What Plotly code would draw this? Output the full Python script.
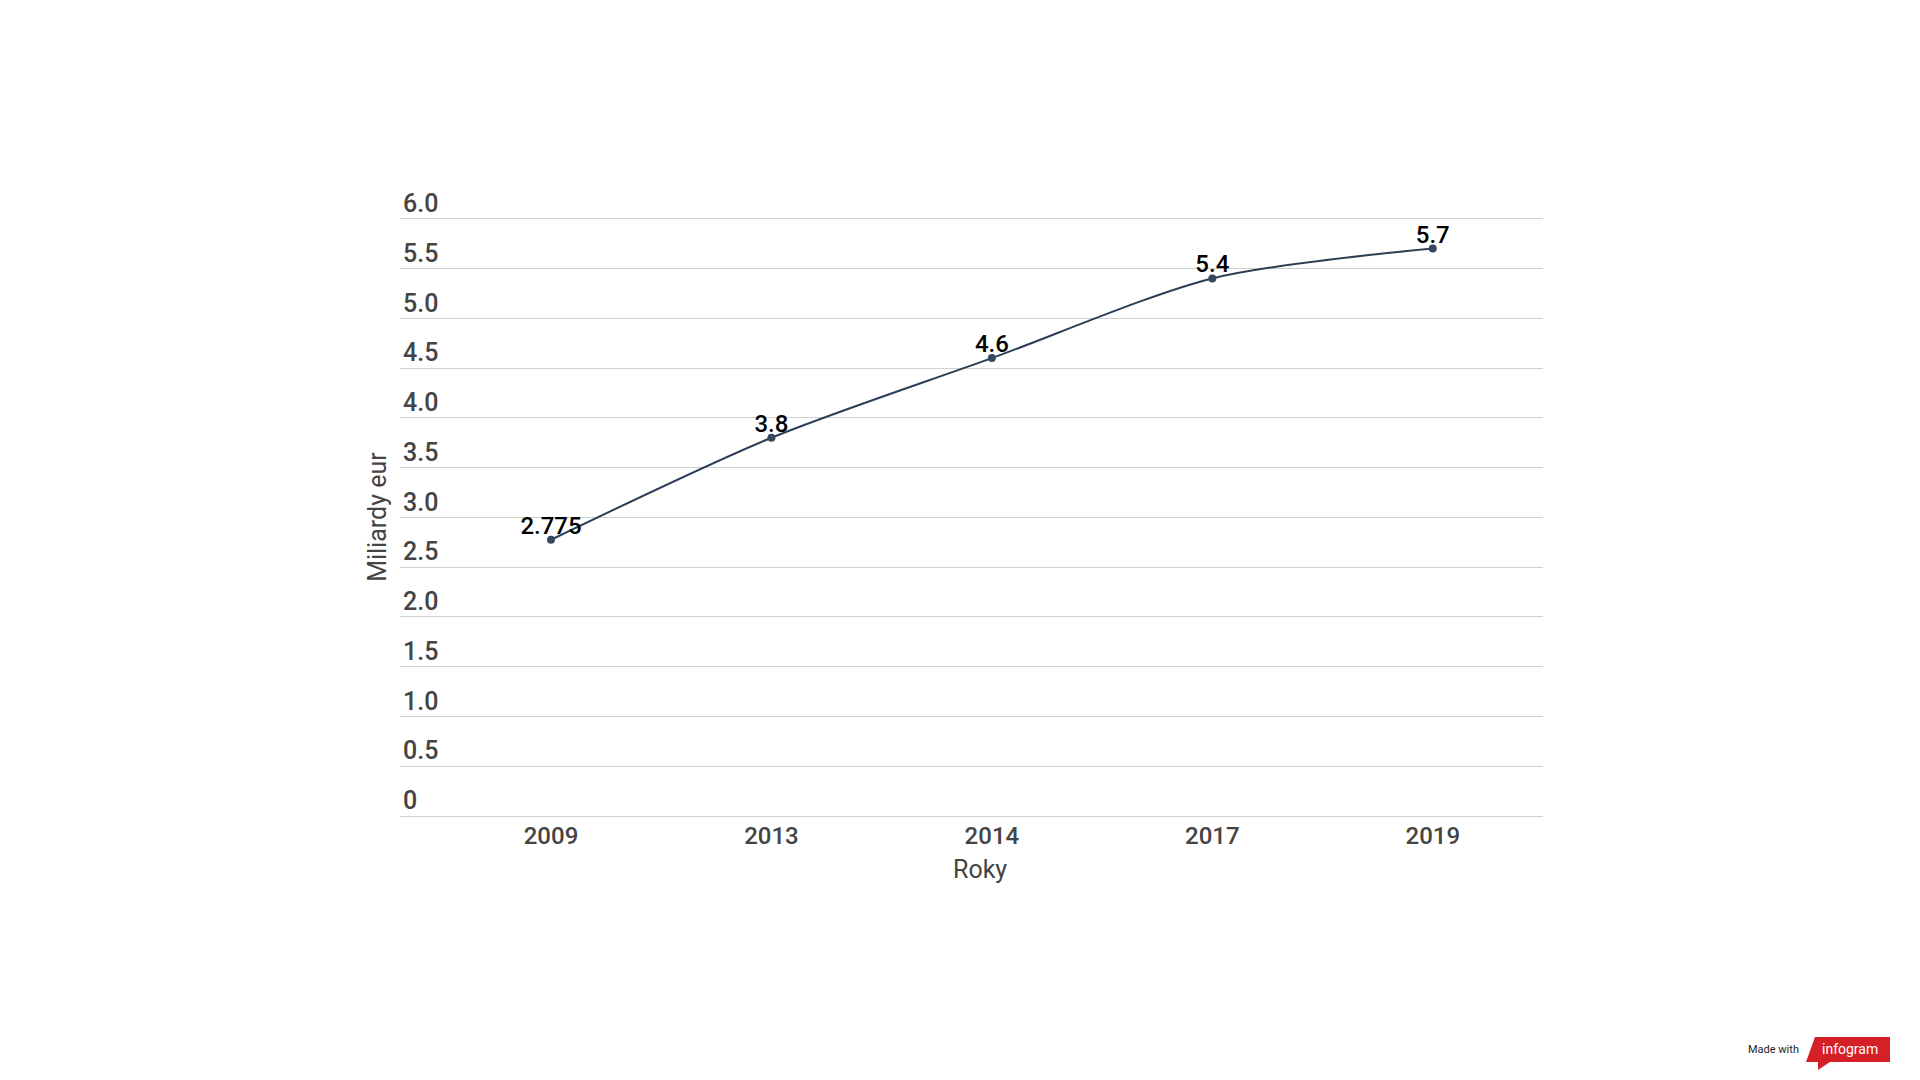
import plotly.graph_objects as go

years = ["2009", "2013", "2014", "2017", "2019"]
values = [2.775, 3.8, 4.6, 5.4, 5.7]
value_labels = ["2.775", "3.8", "4.6", "5.4", "5.7"]
y_ticks = [0, 0.5, 1.0, 1.5, 2.0, 2.5, 3.0, 3.5, 4.0, 4.5, 5.0, 5.5, 6.0]
y_tick_text = ["0", "0.5", "1.0", "1.5", "2.0", "2.5", "3.0", "3.5", "4.0", "4.5", "5.0", "5.5", "6.0"]

W, H = 1920, 1080
Y_TOP = 6.6
L, R, B = 400, 1543, 816
UNIT = 99.5  # pixels per y unit
T = B - Y_TOP * UNIT  # top of plot area in pixels


def px(x):
    return (x - L) / (R - L)


def py(y):
    return (B - y) / (B - T)


LINE = "#2c3e55"
FONT = "Roboto"

fig = go.Figure()
fig.add_trace(go.Scatter(
    x=years, y=values,
    mode="lines+markers",
    line=dict(color=LINE, width=2, shape="spline", smoothing=0.8),
    marker=dict(color="#34495e", size=8),
    hoverinfo="x+y",
    showlegend=False,
))
fig.add_trace(go.Scatter(
    x=years, y=values,
    mode="text",
    text=value_labels,
    textposition="top center",
    textfont=dict(family=FONT, size=24, color="#000000", weight=500),
    cliponaxis=False,
    hoverinfo="skip",
    showlegend=False,
))

fig.update_layout(
    width=W, height=H,
    margin=dict(l=L, r=W - R, t=T, b=H - B, pad=0),
    paper_bgcolor="white",
    plot_bgcolor="white",
    font=dict(family=FONT, color="#444444"),
    xaxis=dict(
        type="category",
        range=[-0.685, 4.5],
        showgrid=False,
        showline=False,
        zeroline=False,
        ticks="",
        ticklabelstandoff=3,
        tickfont=dict(family=FONT, size=24, color="#444444", weight=500),
    ),
    yaxis=dict(
        range=[0, Y_TOP],
        tickvals=y_ticks,
        ticktext=y_tick_text,
        ticklabelposition="inside top",
        ticklabelshift=2,
        showgrid=True,
        gridcolor="#d0d0d0",
        gridwidth=1,
        zeroline=True,
        zerolinecolor="#d0d0d0",
        zerolinewidth=1,
        showline=False,
        ticks="",
        tickfont=dict(family=FONT, size=25, color="#444444", weight=500),
    ),
    annotations=[
        dict(text="Miliardy eur", xref="paper", yref="paper",
             x=px(378), y=py(517), textangle=-90, showarrow=False,
             xanchor="center", yanchor="middle",
             font=dict(family=FONT, size=25, color="#444444")),
        dict(text="Roky", xref="paper", yref="paper",
             x=px(980), y=py(869), showarrow=False,
             xanchor="center", yanchor="middle",
             font=dict(family=FONT, size=25, color="#444444")),
        dict(text="Made with", xref="paper", yref="paper",
             x=px(1773), y=py(1049), showarrow=False,
             xanchor="center", yanchor="middle",
             font=dict(family=FONT, size=11, color="#222222")),
        dict(text="infogram", xref="paper", yref="paper",
             x=px(1850), y=py(1049), showarrow=False,
             xanchor="center", yanchor="middle",
             font=dict(family=FONT, size=14, color="#ffffff")),
    ],
    shapes=[
        dict(type="path", xref="paper", yref="paper",
             path=(f"M {px(1806)},{py(1062)} L {px(1815)},{py(1037)} "
                   f"L {px(1890)},{py(1037)} L {px(1890)},{py(1062)} "
                   f"L {px(1830)},{py(1062)} L {px(1818)},{py(1070)} "
                   f"L {px(1818)},{py(1062)} Z"),
             fillcolor="#d52027", line=dict(width=0), layer="above"),
    ],
)

fig.write_html("out.html", config={"displayModeBar": False},
               post_script="document.body.style.margin='0';")
